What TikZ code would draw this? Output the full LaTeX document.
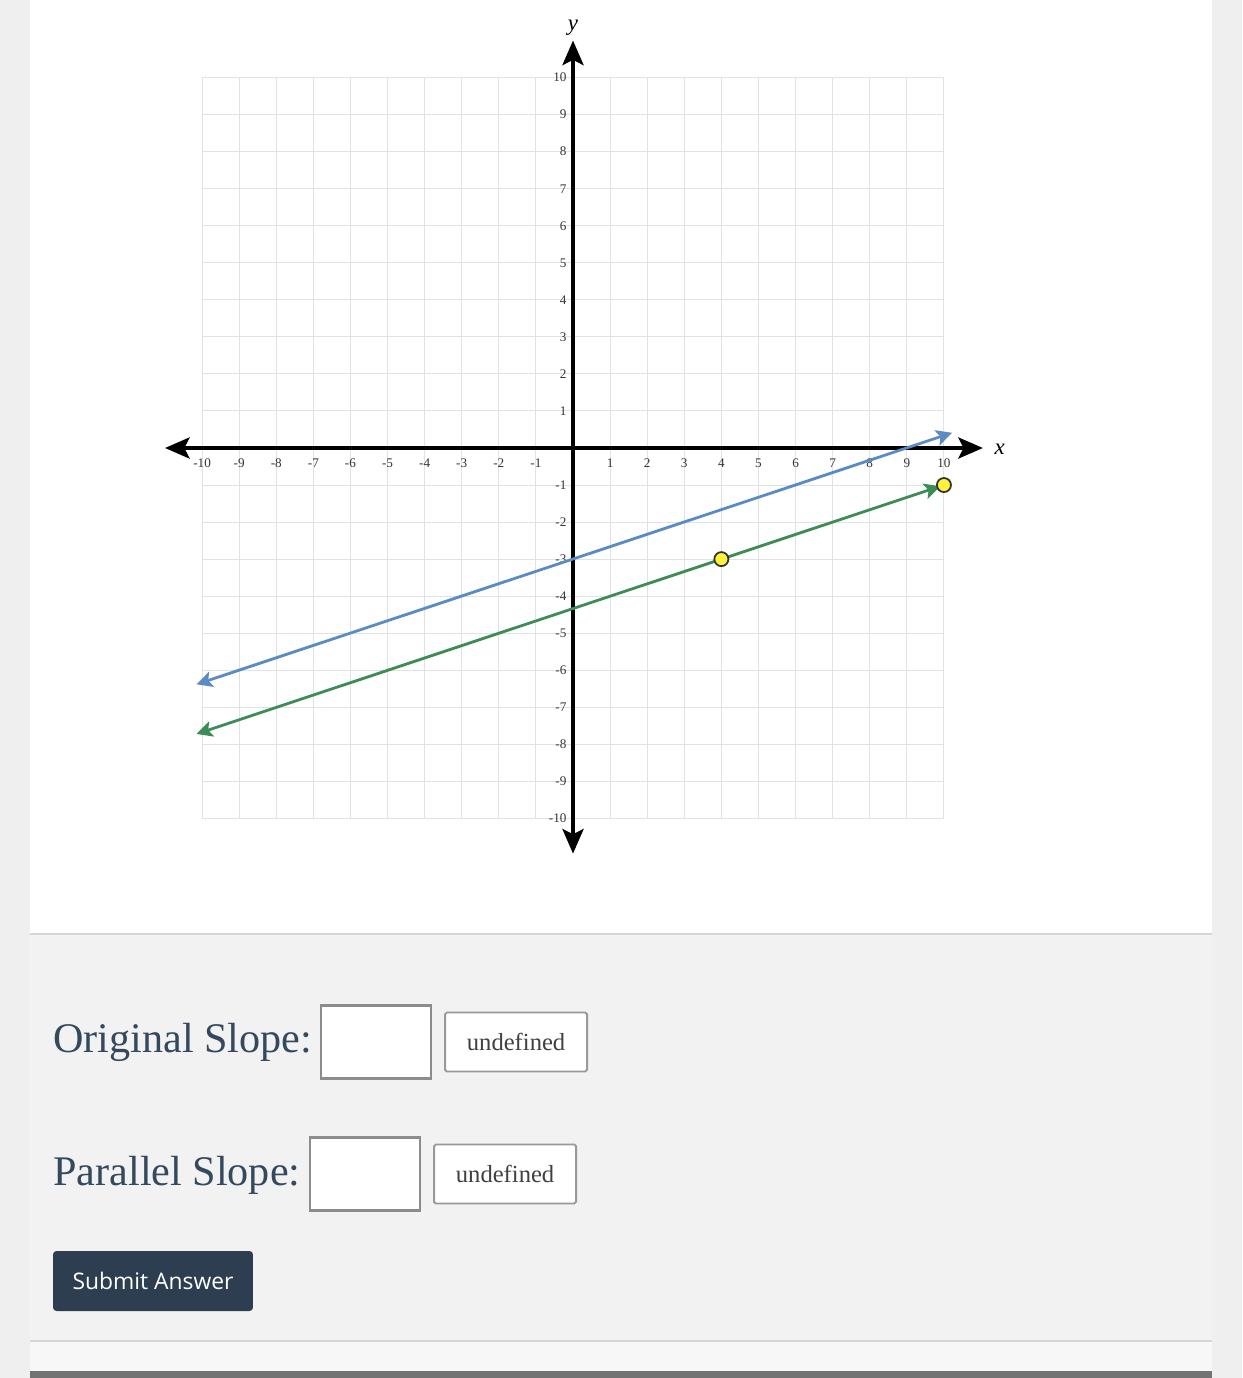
\documentclass[tikz,border=0pt]{standalone}
\usepackage{fontspec}
\setmainfont{Liberation Serif}
\setsansfont{Open Sans}
\usetikzlibrary{arrows.meta,positioning}

\definecolor{pagegrey}{HTML}{EFEFEF}
\definecolor{formgrey}{HTML}{F2F2F2}
\definecolor{gridgrey}{HTML}{E2E2E2}
\definecolor{rulegrey}{HTML}{D3D6DB}
\definecolor{slate}{HTML}{34495E}
\definecolor{navy}{HTML}{2C3E50}
\definecolor{origblue}{HTML}{5A8BC3}
\definecolor{pargreen}{HTML}{3C8D55}
\definecolor{dotyellow}{HTML}{FFF23C}

\tikzstyle{gridline} = [gridgrey, line width=0.6pt]
\tikzstyle{axis} = [line width=2.1pt, {Stealth[length=14pt,width=12pt,inset=3pt]}-{Stealth[length=14pt,width=12pt,inset=3pt]}]
\tikzstyle{ticklabel} = [font=\fontsize{7.5}{8}\selectfont, text=black!80, inner sep=1pt]
\tikzstyle{slopeline} = [line width=1.6pt, {Stealth[length=9pt,width=9pt,inset=2pt]}-{Stealth[length=9pt,width=9pt,inset=2pt]}]
\tikzstyle{dot} = [circle, draw=black!80, fill=dotyellow, line width=1pt, minimum size=8pt, inner sep=0pt]
\tikzstyle{formlabel} = [font=\fontsize{24}{26}\selectfont, text=slate, anchor=base west, inner sep=0pt]
\tikzstyle{inbox} = [rectangle, draw=black!45, fill=white, line width=1.3pt, minimum width=2.2cm, minimum height=1.46cm]
\tikzstyle{undefbtn} = [rectangle, draw=black!40, fill=white, line width=1.1pt, rounded corners=1pt, minimum width=2.84cm, minimum height=1.18cm, font=\fontsize{14}{16}\selectfont, text=black!75]
\tikzstyle{submit} = [rectangle, fill=navy, rounded corners=2pt, minimum width=4cm, minimum height=1.2cm, font=\sffamily\fontsize{13}{15}\selectfont, text=white]

\begin{document}
\begin{tikzpicture}[x=0.02cm, y=-0.02cm]
\useasboundingbox (0,0) rectangle (1242,1378);

% page and panels
\fill[pagegrey] (0,0) rectangle (1242,1378);
\fill[white] (30,0) rectangle (1212,934);
\fill[formgrey] (30,934) rectangle (1212,1341);
\fill[black!3] (30,1341) rectangle (1212,1371);
\fill[black!55] (30,1371) rectangle (1212,1378);
\draw[rulegrey, line width=1.2pt] (30,934) -- (1212,934);
\draw[rulegrey, line width=1.2pt] (30,1341) -- (1212,1341);

% the graph
\begin{scope}[shift={(573,448)}, x=0.742cm, y=0.741cm]
\draw[gridline, step=1] (-10,-10) grid (10,10);

\coordinate (xl) at (-11,0);
\coordinate (xr) at (11.05,0);
\coordinate (yt) at (0,11);
\coordinate (yb) at (0,-10.95);
\draw[axis] (xl) -- (xr);
\draw[axis] (yb) -- (yt);
\node (xname) at (11.5,-0.03) {\fontsize{13}{14}\selectfont\itshape x};
\node (yname) at (0,11.35) {\fontsize{13}{14}\selectfont\itshape y};

\foreach \i in {-10,...,-1,1,2,...,10} {
  \node[ticklabel] (xt\i) at (\i,-0.4) {\i};
  \node[ticklabel, anchor=east] (yt\i) at (-0.12,\i) {\i};
}

% original line and its parallel
\coordinate (b0) at (-10.15,-6.38);
\coordinate (b1) at (10.22,0.41);
\coordinate (g0) at (-10.15,-7.72);
\coordinate (g1) at (10,-1);
\coordinate (g1e) at (9.9,-1.033);
\draw[slopeline, origblue] (b0) -- (b1);
\draw[slopeline, pargreen] (g0) -- (g1e);
\node[dot] (p1) at (4,-3) {};
\node[dot] (p2) at (g1) {};
\end{scope}

% answer form
\node[formlabel] (olabel) at (53,1052) {Original Slope:};
\node[inbox] (obox) at (376,1042) {};
\node[undefbtn, right=0.24cm of obox] (obtn) {undefined};

\node[formlabel] (plabel) at (53,1185) {Parallel Slope:};
\node[inbox] (pbox) at (365,1174) {};
\node[undefbtn, right=0.24cm of pbox] (pbtn) {undefined};

\node[submit] (send) at (153,1281) {Submit Answer};
\end{tikzpicture}
\end{document}
